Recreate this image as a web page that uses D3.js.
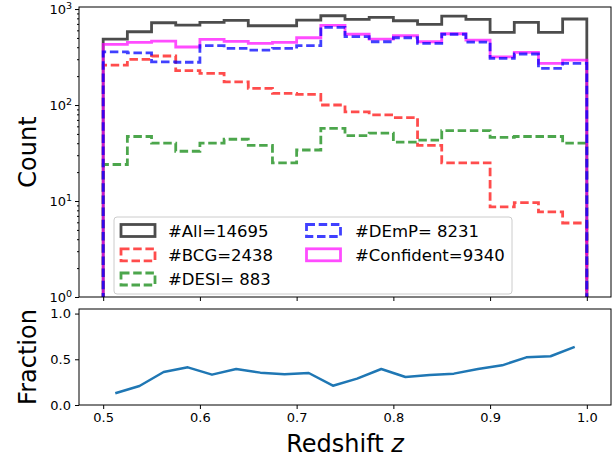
<!DOCTYPE html>
<html>
<head>
<meta charset="utf-8">
<script src="https://cdn.jsdelivr.net/npm/d3@7"></script>
<style>
  html, body { margin: 0; padding: 0; background: #fff; }
  svg { display: block; font-family: "DejaVu Sans", sans-serif; }
</style>
</head>
<body>
<svg id="chart" width="616" height="457"></svg>
<script>
// ---- data ----
const binEdges = [0.5, 0.525, 0.55, 0.575, 0.6, 0.625, 0.65, 0.675, 0.7, 0.725, 0.75,
                  0.775, 0.8, 0.825, 0.85, 0.875, 0.9, 0.925, 0.95, 0.975, 1.0];
const countAll = [487, 580, 720, 680, 727, 763, 670, 670, 768, 851,
                  780, 819, 755, 692, 845, 780, 571, 727, 571, 787];
const countBCG = [261, 299, 324, 228, 214, 174, 149, 132, 129, 100,
                  85, 79, 74, 38, 25, 25, 8.7, 9.6, 7.7, 5.9];
const countDESI = [24, 47, 40, 33, 40, 44, 38, 25, 34, 57,
                   48, 51, 41, 43, 54, 54, 46, 47, 47, 40];
const countDEmP = [357, 350, 282, 279, 415, 389, 374, 389, 415, 645,
                   515, 456, 502, 439, 546, 453, 306, 340, 241, 272];
const countConfident = [429, 450, 464, 402, 483, 461, 439, 450, 502, 677,
                        546, 487, 527, 456, 553, 475, 318, 354, 272, 294];
const fractionZ = [0.5125, 0.5375, 0.5625, 0.5875, 0.6125, 0.6375, 0.6625, 0.6875, 0.7125, 0.7375,
                   0.7625, 0.7875, 0.8125, 0.8375, 0.8625, 0.8875, 0.9125, 0.9375, 0.9625, 0.9875];
const fractionVal = [0.128, 0.208, 0.361, 0.412, 0.332, 0.394, 0.354, 0.336, 0.350, 0.211,
                     0.288, 0.394, 0.306, 0.328, 0.343, 0.394, 0.434, 0.521, 0.533, 0.635];
const xTicks = [0.5, 0.6, 0.7, 0.8, 0.9, 1.0];
const logTicks = [1, 10, 100, 1000];
const logTickExp = ["0", "1", "2", "3"];
const fracTicks = [0.0, 0.5, 1.0];
const legendLabels = ["#All=14695", "#BCG=2438", "#DESI= 883", "#DEmP= 8231", "#Confident=9340"];

// ---- layout ----
const L = 79, R = 611, T1 = 7, B1 = 297, T2 = 309, B2 = 405;
const svg = d3.select("#chart");

const x = d3.scaleLinear().domain([0.475, 1.025]).range([L, R]);
const y1 = d3.scaleLog().domain([1, 1050]).range([B1, T1]);
const y2 = d3.scaleLinear().domain([0, 1.05]).range([B2, T2]);

svg.append("defs").append("clipPath").attr("id", "clipTop")
  .append("rect").attr("x", L).attr("y", T1).attr("width", R - L).attr("height", B1 - T1);

const series = [
  {vals: countAll, color: "#000000", op: 0.7, dash: null, label: legendLabels[0]},
  {vals: countBCG, color: "#ff0000", op: 0.7, dash: "8.5,3.7", label: legendLabels[1]},
  {vals: countDESI, color: "#008000", op: 0.7, dash: "8.5,3.7", label: legendLabels[2]},
  {vals: countConfident, color: "#ff00ff", op: 0.7, dash: null, label: legendLabels[4]},
  {vals: countDEmP, color: "#0000ff", op: 0.75, dash: "8.5,3.7", label: legendLabels[3]}
];

function stepPoints(vals) {
  const pts = [[binEdges[0], 0.5]];
  vals.forEach((v, i) => { pts.push([binEdges[i], v]); pts.push([binEdges[i + 1], v]); });
  pts.push([binEdges[binEdges.length - 1], 0.5]);
  return pts;
}
const stepLine = d3.line().x(d => x(d[0])).y(d => y1(d[1]));

const gHist = svg.append("g").attr("clip-path", "url(#clipTop)");
series.forEach(s => {
  gHist.append("path")
    .attr("d", stepLine(stepPoints(s.vals)))
    .attr("fill", "none")
    .attr("stroke", s.color)
    .attr("stroke-opacity", s.op)
    .attr("stroke-width", 2.8)
    .attr("stroke-linejoin", "miter")
    .attr("stroke-dasharray", s.dash);
});

// ---- top axes ----
const gx1 = svg.append("g").attr("transform", `translate(0,${B1})`)
  .call(d3.axisBottom(x).tickValues(xTicks).tickSize(4).tickFormat(""));
const minor = [];
for (let e = 0; e < 3; e++) for (let m = 2; m <= 9; m++) minor.push(m * Math.pow(10, e));
const gy1m = svg.append("g").attr("transform", `translate(${L},0)`)
  .call(d3.axisLeft(y1).tickValues(minor).tickSize(2).tickFormat(""));
const gy1 = svg.append("g").attr("transform", `translate(${L},0)`)
  .call(d3.axisLeft(y1).tickValues(logTicks).tickSize(4).tickFormat(""));
logTicks.forEach((t, i) => {
  const tx = svg.append("text").attr("x", L - 7).attr("y", y1(t) + 5)
    .attr("text-anchor", "end").attr("font-size", 13).attr("fill", "#000");
  tx.append("tspan").text("10");
  tx.append("tspan").attr("dy", -5.5).attr("font-size", 9.5).text(logTickExp[i]);
});
svg.append("rect").attr("x", L).attr("y", T1).attr("width", R - L).attr("height", B1 - T1)
  .attr("fill", "none").attr("stroke", "#000").attr("stroke-width", 1);

// ---- legend ----
const lg = svg.append("g");
lg.append("rect").attr("x", 114).attr("y", 217).attr("width", 398).attr("height", 77)
  .attr("rx", 3).attr("fill", "#fff").attr("fill-opacity", 0.8)
  .attr("stroke", "#cccccc").attr("stroke-width", 1);
const legendOrder = [
  {s: series[0], col: 0, row: 0}, {s: series[1], col: 0, row: 1}, {s: series[2], col: 0, row: 2},
  {s: series[4], col: 1, row: 0}, {s: series[3], col: 1, row: 1}
];
const rowY = [230.5, 254.8, 279];
const colHX = [121, 306.5], colTX = [168, 355];
legendOrder.forEach(e => {
  const cy = rowY[e.row];
  lg.append("rect").attr("x", colHX[e.col]).attr("y", cy - 6).attr("width", 34).attr("height", 12)
    .attr("fill", "none").attr("stroke", e.s.color).attr("stroke-opacity", e.s.op)
    .attr("stroke-width", 2.8).attr("stroke-dasharray", e.s.dash);
  lg.append("text").attr("x", colTX[e.col]).attr("y", cy + 6).attr("font-size", 16.5)
    .attr("fill", "#000").text(e.s.label);
});

// ---- bottom panel ----
const fracLine = d3.line().x((d, i) => x(fractionZ[i])).y(d => y2(d));
svg.append("path").attr("d", fracLine(fractionVal))
  .attr("fill", "none").attr("stroke", "#1f77b4").attr("stroke-width", 2.5)
  .attr("stroke-linejoin", "round");

const gx2 = svg.append("g").attr("transform", `translate(0,${B2})`)
  .call(d3.axisBottom(x).tickValues(xTicks).tickSize(4).tickPadding(4).tickFormat(d3.format(".1f")));
const gy2 = svg.append("g").attr("transform", `translate(${L},0)`)
  .call(d3.axisLeft(y2).tickValues(fracTicks).tickSize(4).tickPadding(4).tickFormat(d3.format(".1f")));
svg.append("rect").attr("x", L).attr("y", T2).attr("width", R - L).attr("height", B2 - T2)
  .attr("fill", "none").attr("stroke", "#000").attr("stroke-width", 1);

[gx1, gy1m, gy1, gx2, gy2].forEach(g => {
  g.select(".domain").remove();
  g.selectAll(".tick line").attr("stroke", "#000").attr("stroke-width", 1);
  g.selectAll(".tick text").attr("font-size", 13).attr("font-family", "DejaVu Sans").attr("fill", "#000");
});

// ---- axis labels ----
svg.append("text").attr("transform", `translate(36,${(T1 + B1) / 2}) rotate(-90)`)
  .attr("text-anchor", "middle").attr("font-size", 24).attr("fill", "#000").text("Count");
svg.append("text").attr("transform", `translate(36,${(T2 + B2) / 2}) rotate(-90)`)
  .attr("text-anchor", "middle").attr("font-size", 24).attr("fill", "#000").text("Fraction");
const xl = svg.append("text").attr("x", (L + R) / 2).attr("y", 452)
  .attr("text-anchor", "middle").attr("font-size", 24).attr("fill", "#000");
xl.append("tspan").text("Redshift ");
xl.append("tspan").attr("font-style", "italic").text("z");
</script>
</body>
</html>
